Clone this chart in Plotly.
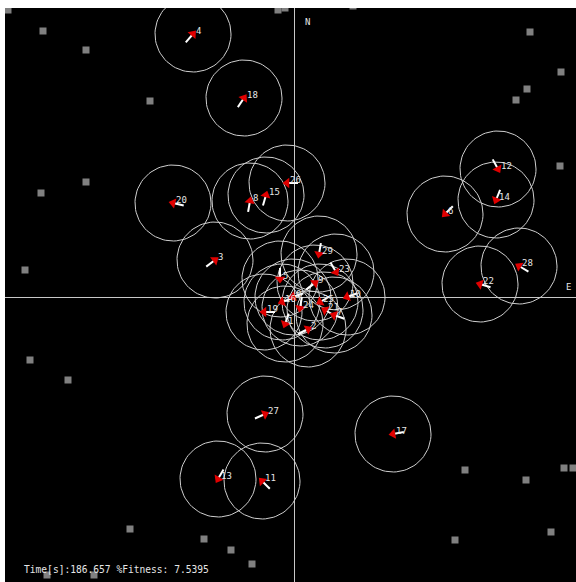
import numpy as np
import plotly.graph_objects as go

# Arena coordinates (x east, y north), origin at the axis crossing
agent_ids = ["4", "18", "20", "8", "15", "26", "3", "12", "14", "6", "28", "22",
             "29", "23", "5", "9", "10", "19", "16", "0", "24", "25", "21", "7",
             "1", "2", "27", "13", "11", "17"]
agent_x = [-101, -50, -121, -44, -28, -7, -79, 204, 202, 151, 225, 186,
           25, 42, -14, 21, 53, -30, -12, -1, 6, 26, 31, 40,
           -9, 14, -29, -76, -32, 99]
agent_y = [263, 199, 94, 96, 102, 114, 37, 128, 97, 83, 31, 13,
           43, 25, 18, 14, 0, -15, -5, 0, -11, -5, -13, -18,
           -27, -32, -117, -182, -184, -137]
agent_heading = [49, 56, 167, 80, 74, 180, 37, -61, -112, -135, 149, 163,
                 -100, -60, -90, 37, 200, 180, 200, 200, -100, 210, 150, 160,
                 -110, 27, 24, -120, 135, -170]

obstacle_x = [-286, -251, -208, -144, -16, -9, 59, 236, 267, 233, 222,
              -253, -208, -269, 266,
              -264, -226, -164, -90, -63, -42, -247, -200,
              171, 232, 270, 279, 161, 257]
obstacle_y = [287, 266, 247, 196, 287, 289, 291, 265, 225, 208, 197,
              104, 115, 27, 131,
              -63, -83, -232, -242, -253, -267, -278, -278,
              -173, -183, -171, -171, -243, -235]

sensor_range = 38
tail_len = 11
time_s = 186.657
fitness = 7.5395

ax = np.array(agent_x, float)
ay = np.array(agent_y, float)
hd = np.radians(np.array(agent_heading, float))

# circles
t = np.linspace(0, 2 * np.pi, 90)
cx, cy = [], []
for x0, y0 in zip(ax, ay):
    cx += list(x0 + sensor_range * np.cos(t)) + [None]
    cy += list(y0 + sensor_range * np.sin(t)) + [None]

# tails
tx, ty = [], []
for x0, y0, h in zip(ax, ay, hd):
    tx += [x0, x0 - tail_len * np.cos(h), None]
    ty += [y0, y0 - tail_len * np.sin(h), None]

fig = go.Figure()
fig.add_trace(go.Scatter(x=obstacle_x, y=obstacle_y, mode="markers",
                         marker=dict(symbol="square", size=7, color="#808080",
                                     line=dict(width=0)),
                         hoverinfo="skip"))
fig.add_trace(go.Scatter(x=cx, y=cy, mode="lines",
                         line=dict(color="#cfcfcf", width=1), hoverinfo="skip"))
fig.add_trace(go.Scatter(x=tx, y=ty, mode="lines",
                         line=dict(color="white", width=2), hoverinfo="skip"))
fig.add_trace(go.Scatter(x=ax, y=ay, mode="markers",
                         marker=dict(symbol="triangle-up", size=9, color="#e00000",
                                     angle=list(90 - np.degrees(hd)),
                                     line=dict(width=0)),
                         hoverinfo="skip"))
fig.add_trace(go.Scatter(x=ax + 3, y=ay + 2, mode="text", text=agent_ids,
                         textposition="middle right",
                         textfont=dict(family="DejaVu Sans Mono", size=9, color="#e6e6e6"),
                         hoverinfo="skip"))

fig.add_annotation(x=9, y=275, text="N", showarrow=False, xanchor="left",
                   font=dict(family="DejaVu Sans Mono", size=9, color="#e6e6e6"))
fig.add_annotation(x=270, y=10, text="E", showarrow=False, xanchor="left",
                   font=dict(family="DejaVu Sans Mono", size=9, color="#e6e6e6"))
fig.add_annotation(x=-272, y=-272, xanchor="left",
                   text=f"Time[s]:{time_s} %Fitness: {fitness}", showarrow=False,
                   font=dict(family="DejaVu Sans Mono", size=9.6, color="#e6e6e6"))

axis_common = dict(showgrid=False, showticklabels=False, ticks="", zeroline=True,
                   zerolinecolor="#c8c8c8", zerolinewidth=1, fixedrange=True)
fig.update_xaxes(range=[-289, 282], **axis_common)
fig.update_yaxes(range=[-285, 289], **axis_common)
fig.update_layout(width=576, height=582, margin=dict(l=5, r=0, t=8, b=0),
                  paper_bgcolor="white", plot_bgcolor="black", showlegend=False)
fig.write_html("out.html", config={"displayModeBar": False},
               post_script="document.body.style.margin='0';document.body.style.overflow='hidden';")
